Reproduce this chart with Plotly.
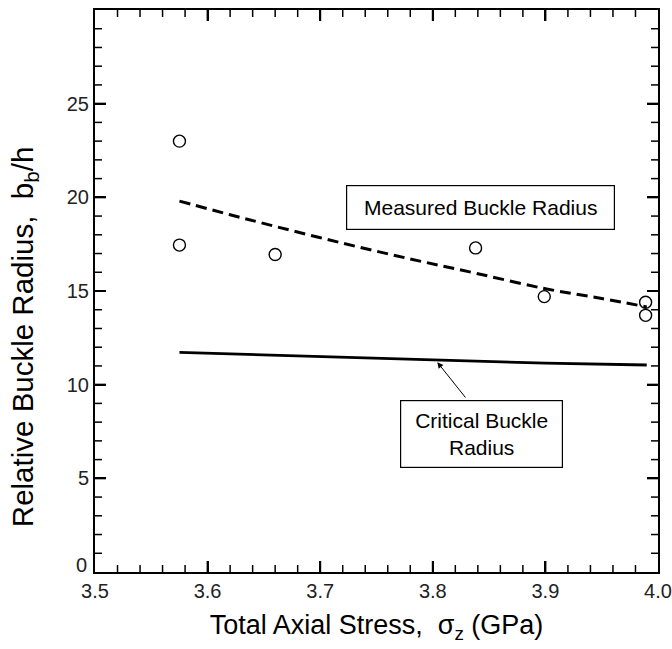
import numpy as np
import plotly.graph_objects as go

# Measured data points
meas_x = [3.575, 3.575, 3.66, 3.838, 3.899, 3.989, 3.989]
meas_y = [23.0, 17.45, 16.95, 17.3, 14.7, 14.4, 13.7]

# Fit curve for measured buckle radius (dashed)
fit_x = [3.575, 3.62, 3.66, 3.72, 3.78, 3.838, 3.9, 3.95, 3.99]
fit_y = [19.8, 19.07, 18.45, 17.55, 16.71, 15.95, 15.12, 14.6, 14.15]

# Critical buckle radius (solid)
crit_x = [3.575, 3.7, 3.8, 3.9, 3.99]
crit_y = [11.72, 11.5, 11.32, 11.15, 11.05]

x_tickvals = [3.5, 3.6, 3.7, 3.8, 3.9, 4.0]
x_ticktext = ["3.5", "3.6", "3.7", "3.8", "3.9", "4.0"]
y_tickvals = [0, 5, 10, 15, 20, 25]
y_ticktext = ["", "5", "10", "15", "20", "25"]
x_minor = [round(v, 2) for v in np.arange(3.52, 4.0, 0.02)]
y_minor = list(range(1, 30))

FONT = "Liberation Sans, Arial, Helvetica, sans-serif"

fig = go.Figure()
fig.add_trace(go.Scatter(x=fit_x, y=fit_y, mode="lines",
                         line=dict(color="black", width=3, dash="11px,6px"),
                         line_shape="spline", showlegend=False))
fig.add_trace(go.Scatter(x=crit_x, y=crit_y, mode="lines",
                         line=dict(color="black", width=2.8),
                         showlegend=False))
fig.add_trace(go.Scatter(x=meas_x, y=meas_y, mode="markers",
                         marker=dict(symbol="circle-open", size=12,
                                     color="black", line=dict(width=1.4)),
                         showlegend=False))

# tick marks on all four sides (inside), anchored to the axis scales
for xv in x_minor:
    major = any(abs(xv - t) < 1e-9 for t in x_tickvals)
    ln, w = (11, 2) if major else (7, 1.5)
    for anchor, sign in ((0, 1), (1, -1)):
        fig.add_shape(type="line", xref="x", yref="paper", x0=xv, x1=xv,
                      ysizemode="pixel", yanchor=anchor, y0=0, y1=sign * ln,
                      line=dict(color="black", width=w))
for yv in y_minor:
    major = yv in y_tickvals
    ln, w = (11, 2) if major else (7, 1.5)
    for anchor, sign in ((0, 1), (1, -1)):
        fig.add_shape(type="line", xref="paper", yref="y", y0=yv, y1=yv,
                      xsizemode="pixel", xanchor=anchor, x0=0, x1=sign * ln,
                      line=dict(color="black", width=w))

fig.add_annotation(x=3.842, y=19.46, xref="x", yref="y",
                   text="Measured Buckle Radius", showarrow=False,
                   font=dict(family=FONT, size=21, color="black"),
                   width=251, height=27,
                   bordercolor="black", borderwidth=1.2, borderpad=8,
                   bgcolor="white")
fig.add_annotation(x=3.843, y=7.37, xref="x", yref="y",
                   text="Critical Buckle<br>Radius", showarrow=False,
                   font=dict(family=FONT, size=21, color="black"),
                   width=145, height=50,
                   bordercolor="black", borderwidth=1.2, borderpad=8,
                   bgcolor="white")
fig.add_annotation(x=3.804, y=11.2, ax=3.830, ay=9.24, xref="x", yref="y",
                   axref="x", ayref="y", text="", showarrow=True,
                   arrowhead=2, arrowsize=1.2, arrowwidth=1, arrowcolor="black",
                   standoff=0, startstandoff=0)
# y tick label "0" (raised slightly as in the original)
fig.add_annotation(x=0, y=0, xref="paper", yref="y", text="0", showarrow=False,
                   xanchor="right", yanchor="middle", xshift=-6, yshift=7,
                   font=dict(family=FONT, size=20, color="#222"))
# y axis title
fig.add_annotation(x=-0.126, y=0.418, xref="paper", yref="paper",
                   text="Relative Buckle Radius,  b<sub>b</sub>/h",
                   textangle=-90, showarrow=False,
                   xanchor="center", yanchor="middle",
                   font=dict(family=FONT, size=29.5, color="black"))

fig.update_layout(
    xaxis=dict(range=[3.5, 4.0], tickmode="array", tickvals=x_tickvals,
               ticktext=x_ticktext,
               ticks="inside", ticklen=11, tickwidth=2, tickcolor="black",
               showline=True, linewidth=2, linecolor="black", mirror="ticks",
               showgrid=False, zeroline=False, automargin=False,
               tickfont=dict(family=FONT, size=20, color="#222"),
               title=dict(text="Total Axial Stress,  σ<sub>z</sub> (GPa)",
                          font=dict(family=FONT, size=27, color="black"),
                          standoff=14)),
    yaxis=dict(range=[0, 30], tickmode="array", tickvals=y_tickvals,
               ticktext=y_ticktext,
               ticks="inside", ticklen=11, tickwidth=2, tickcolor="black",
               showline=True, linewidth=2, linecolor="black", mirror="ticks",
               showgrid=False, zeroline=False, automargin=False,
               tickfont=dict(family=FONT, size=20, color="#222")),
    width=672, height=649,
    margin=dict(l=95, r=14, t=10, b=77),
    plot_bgcolor="white", paper_bgcolor="white",
)

fig.write_html("out.html")
